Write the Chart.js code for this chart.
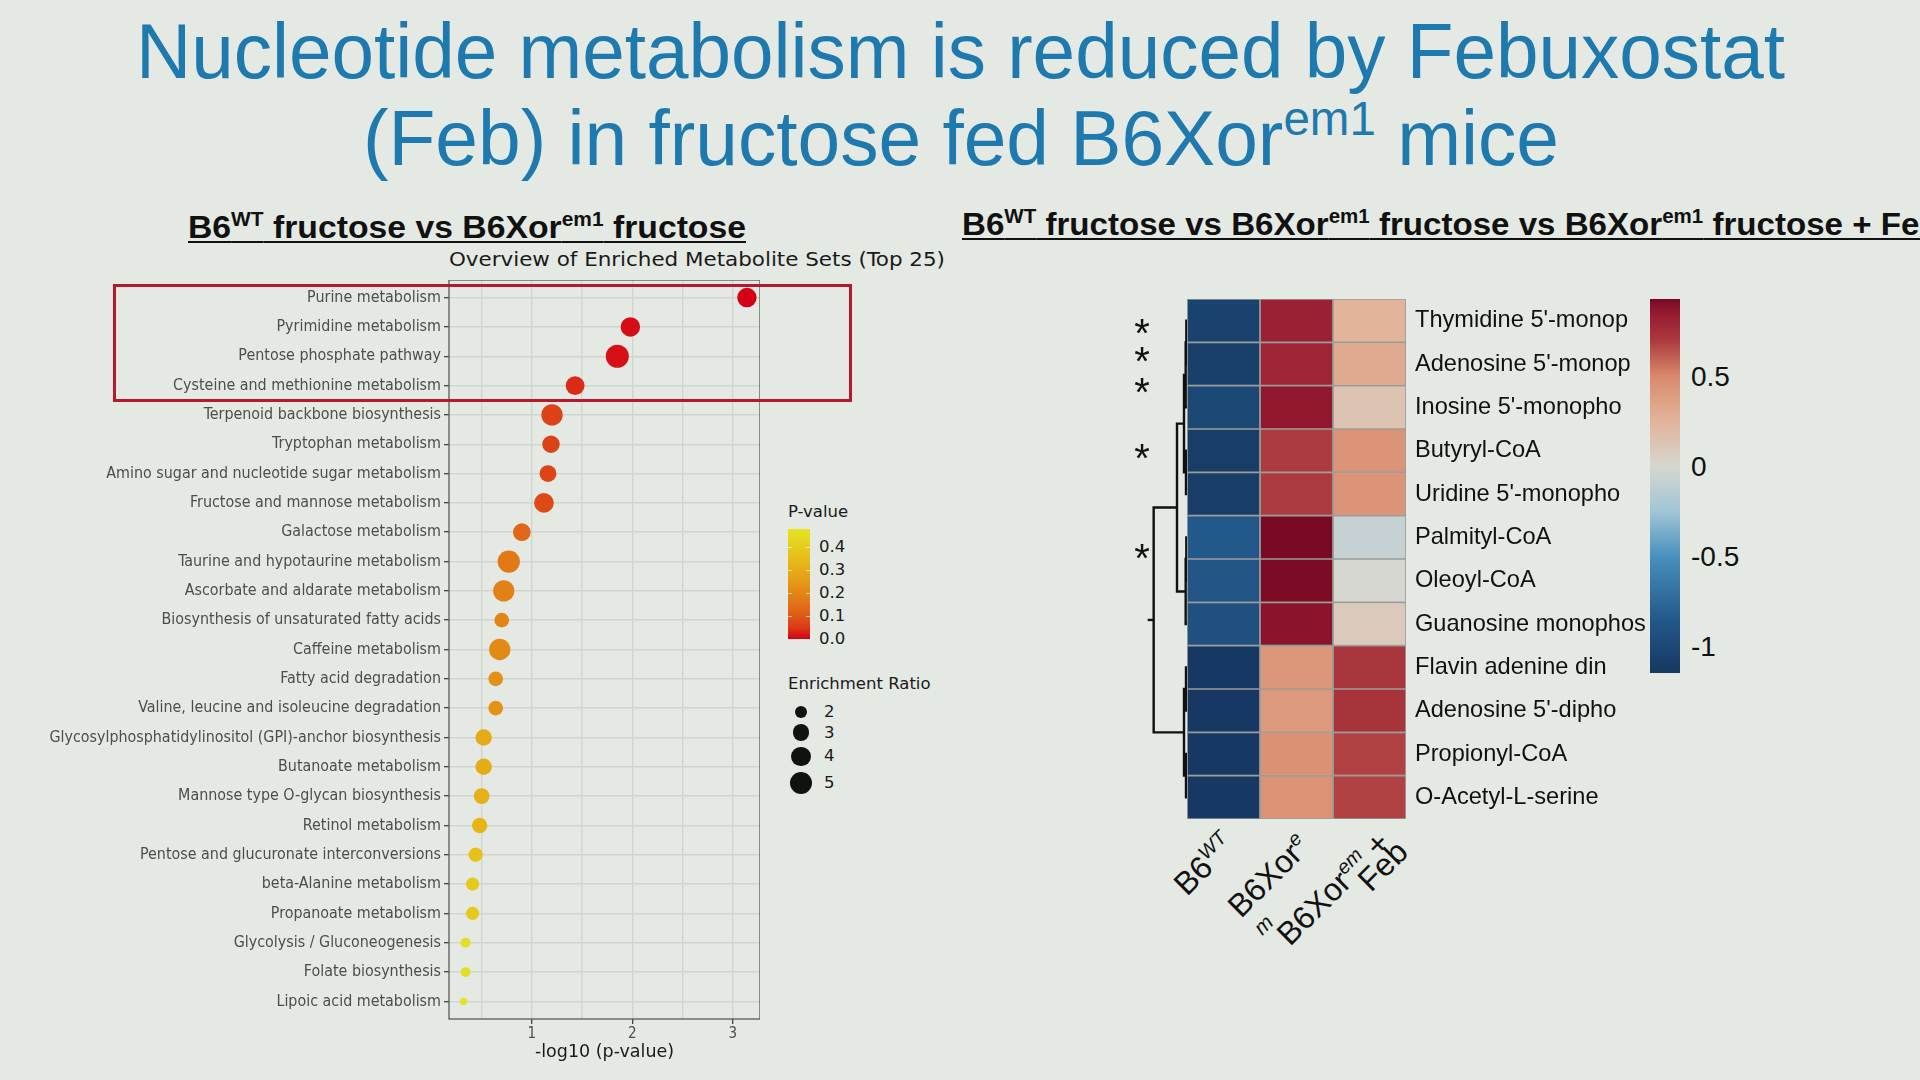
<!DOCTYPE html>
<html>
<head>
<meta charset="utf-8">
<title>Nucleotide metabolism is reduced by Febuxostat</title>
<script src="https://cdn.jsdelivr.net/npm/chart.js@4.4.1/dist/chart.umd.min.js"></script>
<style>
  html, body { margin: 0; padding: 0; }
  body {
    width: 1920px; height: 1080px; overflow: hidden; position: relative;
    background: #e4e9e3; font-family: 'Liberation Sans', Arial, sans-serif; color: #111;
  }
  .txt { position: absolute; white-space: nowrap; line-height: 1; }
  .sp { font-size: 0.62em; vertical-align: 0.62em; line-height: 0; }
  .box { position: absolute; }
  .chart { position: absolute; }
  .title { color: #1e7aae; font-family: 'Liberation Sans Narrow', 'Liberation Sans', Arial, sans-serif; }
  .sub { font-weight: bold; text-decoration: underline; text-decoration-thickness: 2px; text-underline-offset: 3px;
         font-family: 'Liberation Sans Narrow', 'Liberation Sans', Arial, sans-serif; }
</style>
</head>
<body>

<div class="chart" style="left:0px; top:280px; width:760px; height:800px;"><canvas id="dotplot"></canvas></div>
<div class="chart" style="left:1147px; top:299px; width:40px; height:520px;"><canvas id="dendro"></canvas></div>
<div class="chart" style="left:1187px; top:299px; width:463px; height:520px;"><canvas id="heatmap"></canvas></div>

<script>
// ---- left panel: enriched metabolite sets ----
const pathways = [
  "Purine metabolism",
  "Pyrimidine metabolism",
  "Pentose phosphate pathway",
  "Cysteine and methionine metabolism",
  "Terpenoid backbone biosynthesis",
  "Tryptophan metabolism",
  "Amino sugar and nucleotide sugar metabolism",
  "Fructose and mannose metabolism",
  "Galactose metabolism",
  "Taurine and hypotaurine metabolism",
  "Ascorbate and aldarate metabolism",
  "Biosynthesis of unsaturated fatty acids",
  "Caffeine metabolism",
  "Fatty acid degradation",
  "Valine, leucine and isoleucine degradation",
  "Glycosylphosphatidylinositol (GPI)-anchor biosynthesis",
  "Butanoate metabolism",
  "Mannose type O-glycan biosynthesis",
  "Retinol metabolism",
  "Pentose and glucuronate interconversions",
  "beta-Alanine metabolism",
  "Propanoate metabolism",
  "Glycolysis / Gluconeogenesis",
  "Folate biosynthesis",
  "Lipoic acid metabolism"
];
const negLogP = [3.14, 1.98, 1.85, 1.43, 1.20, 1.19, 1.16, 1.12, 0.90, 0.77, 0.72, 0.70, 0.68,
                 0.64, 0.64, 0.52, 0.52, 0.50, 0.48, 0.44, 0.41, 0.41, 0.34, 0.34, 0.32];
const enrichRatio = [4.0, 4.0, 5.4, 3.8, 4.7, 3.3, 3.1, 4.1, 3.4, 5.1, 4.7, 2.5, 4.7,
                     2.5, 2.5, 3.0, 3.0, 2.8, 2.7, 2.4, 2.1, 2.1, 1.4, 1.4, 1.0];
const xTicks = [0.5, 1, 1.5, 2, 2.5, 3];
const pTicks = [0.0, 0.1, 0.2, 0.3, 0.4];
const ratioTicks = [2, 3, 4, 5];

// ---- right panel: heatmap ----
const metabolites = ["Thymidine 5'-monop", "Adenosine 5'-monop", "Inosine 5'-monopho", "Butyryl-CoA",
  "Uridine 5'-monopho", "Palmityl-CoA", "Oleoyl-CoA", "Guanosine monophos",
  "Flavin adenine din", "Adenosine 5'-dipho", "Propionyl-CoA", "O-Acetyl-L-serine"];
const zB6WT    = [-1.05, -1.07, -1.00, -1.10, -1.10, -0.85, -0.88, -0.92, -1.14, -1.14, -1.14, -1.14];
const zXor     = [0.82, 0.80, 0.86, 0.70, 0.70, 0.93, 0.92, 0.88, 0.42, 0.41, 0.46, 0.45];
const zXorFeb  = [0.25, 0.31, 0.14, 0.44, 0.44, -0.08, 0.00, 0.10, 0.72, 0.73, 0.68, 0.68];
const zTicks = [0.5, 0, -0.5, -1];
const zMin = -1.144, zMax = 0.93;
// row dendrogram, hclust style (negative = leaf number, positive = earlier merge)
const mergeA = [-1, 1, -4, 2, -6, 5, 4, -9, -11, 8, 7];
const mergeB = [-2, -3, -5, 3, -7, -8, 6, -10, -12, 9, 10];
const mergeH = [0.02, 0.04, 0.03, 0.09, 0.02, 0.04, 0.30, 0.03, 0.03, 0.09, 1.0];

// colour scales
const pStops = [[0, 212, 0, 22], [0.1, 220, 55, 22], [0.25, 224, 100, 22], [0.5, 228, 150, 22],
                [0.75, 230, 192, 26], [1, 228, 228, 36]];
const heatStops = [[-1.144, 22, 56, 97], [-0.85, 35, 88, 138], [-0.5, 72, 144, 190], [-0.25, 160, 197, 214],
                   [0, 214, 215, 208], [0.25, 226, 180, 155], [0.5, 217, 138, 108], [0.7, 172, 58, 62],
                   [0.85, 150, 26, 48], [0.93, 120, 10, 36]];

function ramp(stops, v) {
  if (v <= stops[0][0]) return `rgb(${stops[0].slice(1).join(',')})`;
  for (let i = 1; i < stops.length; i++) {
    const a = stops[i - 1], b = stops[i];
    if (v <= b[0]) {
      const t = (v - a[0]) / (b[0] - a[0]);
      const c = [1, 2, 3].map(k => Math.round(a[k] + (b[k] - a[k]) * t));
      return `rgb(${c.join(',')})`;
    }
  }
  return `rgb(${stops[stops.length - 1].slice(1).join(',')})`;
}
const pMax = Math.pow(10, -Math.min(...negLogP));
const pColor = p => ramp(pStops, p / pMax);
const heatColor = v => ramp(heatStops, v);
const sizeOf = er => Math.sqrt(27 * (er - 0.5));

// text helpers
function addText(html, x, base, fs, opts = {}) {
  const d = document.createElement('div');
  d.className = 'txt' + (opts.cls ? ' ' + opts.cls : '');
  d.innerHTML = html;
  d.style.left = x + 'px';
  d.style.top = (base - 0.846 * fs) + 'px';
  d.style.fontSize = fs + 'px';
  if (opts.family) d.style.fontFamily = opts.family;
  if (opts.color) d.style.color = opts.color;
  if (opts.italic) d.style.fontStyle = 'italic';
  document.body.appendChild(d);
  if (opts.width) {
    const part = opts.part ? d.querySelector(opts.part) : d;
    const w = part.getBoundingClientRect().width;
    d.style.transformOrigin = '0 0';
    d.style.transform = `scaleX(${opts.width / w})`;
  }
  if (opts.rotate) {
    d.style.transformOrigin = `0 ${0.846 * fs}px`;
    d.style.transform = `rotate(${opts.rotate}deg)`;
  }
  return d;
}
function addBox(x, y, w, h, css) {
  const d = document.createElement('div');
  d.className = 'box';
  Object.assign(d.style, {left: x + 'px', top: y + 'px', width: w + 'px', height: h + 'px'}, css);
  document.body.appendChild(d);
  return d;
}
function fitFont(text, family, base, target) {
  const c = document.createElement('canvas').getContext('2d');
  c.font = `${base}px ${family}`;
  return base * target / c.measureText(text).width;
}

// titles
addText('Nucleotide metabolism is reduced by Febuxostat', 136, 78, 77, {cls: 'title', width: 1649});
addText('(Feb) in fructose fed B6Xor<span class="sp">em1</span> mice', 363, 165, 77, {cls: 'title', width: 1196});
addText('B6<span class="sp">WT</span> fructose vs B6Xor<span class="sp">em1</span> fructose', 188, 238, 32, {cls: 'sub', width: 558});
addText('<span class="pre">B6<span class="sp">WT</span> fructose vs B6Xor<span class="sp">em1</span> fructose vs B6Xor<span class="sp">em1</span> fructose</span> + Feb',
        962, 235, 32, {cls: 'sub', width: 881, part: '.pre'});

const condensed = "'DejaVu Sans Condensed', 'DejaVu Sans', sans-serif";
addText('Overview of Enriched Metabolite Sets (Top 25)', 449, 266, 20, {family: condensed, width: 496, color: '#1a1a1a'});

// ---- dot plot ----
const ySize = fitFont(pathways[15], condensed, 15, 392);
const gridColor = '#d1d5d0';
const panelBorder = {
  id: 'panelBorder',
  afterDatasetsDraw(chart) {
    const {ctx, chartArea: a} = chart;
    ctx.save();
    ctx.strokeStyle = '#5a5a5a';
    ctx.lineWidth = 1.3;
    ctx.strokeRect(a.left, a.top, a.right - a.left, a.bottom - a.top);
    ctx.restore();
  }
};

new Chart(document.getElementById('dotplot'), {
  type: 'bubble',
  data: {
    datasets: [{
      data: pathways.map((name, i) => ({x: negLogP[i], y: i, r: sizeOf(enrichRatio[i])})),
      backgroundColor: negLogP.map(v => pColor(Math.pow(10, -v))),
      borderWidth: 0,
      hoverRadius: 0
    }]
  },
  options: {
    responsive: true, maintainAspectRatio: false, animation: false,
    layout: {padding: 0, autoPadding: false},
    plugins: {legend: {display: false}, tooltip: {enabled: false}},
    scales: {
      x: {
        type: 'linear', min: 0.175, max: 3.27,
        afterBuildTicks: s => { s.ticks = xTicks.map(v => ({value: v})); },
        afterFit: s => { s.height = 61; s.paddingLeft = 0; s.paddingRight = 0; },
        grid: {color: gridColor, lineWidth: 1.4, tickLength: 5, tickWidth: 1.2,
               tickColor: c => Number.isInteger(c.tick && c.tick.value) ? '#333' : 'rgba(0,0,0,0)'},
        border: {display: false},
        ticks: {autoSkip: false, maxRotation: 0, padding: 1, color: '#4d4d4d',
                font: {family: condensed, size: 15},
                callback: v => Number.isInteger(v) ? String(v) : ''},
        title: {display: true, text: '-log10 (p-value)', color: '#1a1a1a',
                font: {family: "'DejaVu Sans', sans-serif", size: 17.5}, padding: {top: 0, bottom: 17}}
      },
      y: {
        type: 'linear', min: -0.6, max: pathways.length - 0.4, reverse: true,
        afterBuildTicks: s => { s.ticks = pathways.map((n, i) => ({value: i})); },
        afterFit: s => { s.width = 449; s.paddingTop = 0; s.paddingBottom = 0; },
        grid: {color: gridColor, lineWidth: 1.4, tickLength: 5, tickWidth: 1.2, tickColor: '#333'},
        border: {display: false},
        ticks: {autoSkip: false, padding: 3, color: '#4d4d4d', font: {family: condensed, size: ySize},
                callback: v => pathways[v]}
      }
    }
  },
  plugins: [panelBorder]
});

// highlight box
addBox(113, 284, 739, 118, {border: '3px solid #b5192b', boxSizing: 'border-box'});

// P-value legend
const legFam = "'DejaVu Sans', sans-serif";
addText('P-value', 788, 518, 16.5, {family: legFam, color: '#1a1a1a'});
const barTop = 529, barH = 110;
const pGrad = pStops.slice().reverse().map(s => `${ramp(pStops, s[0])} ${((1 - s[0]) * 100).toFixed(1)}%`).join(',');
addBox(788, barTop, 22, barH, {background: `linear-gradient(to bottom, ${pGrad})`});
pTicks.forEach(p => {
  const y = barTop + barH - (p / pMax) * barH;
  addText(p.toFixed(1), 819, y + 0.36 * 16.5, 16.5, {family: legFam, color: '#1a1a1a'});
  if (p > 0) {
    addBox(788, y - 0.5, 4, 1, {background: 'rgba(255,255,255,0.6)'});
    addBox(806, y - 0.5, 4, 1, {background: 'rgba(255,255,255,0.6)'});
  }
});

// Enrichment ratio legend
addText('Enrichment Ratio', 788, 690, 16.5, {family: legFam, color: '#1a1a1a'});
let ly = 712, prevR = null;
ratioTicks.forEach(er => {
  const r = sizeOf(er);
  if (prevR !== null) ly += prevR + r + 6;
  addBox(801 - r, ly - r, 2 * r, 2 * r, {background: '#111', borderRadius: '50%'});
  addText(String(er), 824, ly + 0.36 * 16.5, 16.5, {family: legFam, color: '#1a1a1a'});
  prevR = r;
});

// ---- heatmap ----
const rowSize = fitFont(metabolites[7], "'Liberation Sans', Arial, sans-serif", 23, 231);
new Chart(document.getElementById('heatmap'), {
  type: 'bar',
  data: {
    labels: metabolites,
    datasets: [zB6WT, zXor, zXorFeb].map((vals, c) => ({
      data: vals.map(() => [c, c + 1]),
      backgroundColor: vals.map(heatColor),
      borderColor: '#9b9d98',
      borderWidth: 1.2,
      borderSkipped: false,
      barPercentage: 1,
      categoryPercentage: 1,
      grouped: false
    }))
  },
  options: {
    indexAxis: 'y',
    responsive: true, maintainAspectRatio: false, animation: false,
    layout: {padding: 0, autoPadding: false},
    plugins: {legend: {display: false}, tooltip: {enabled: false}},
    scales: {
      x: {type: 'linear', min: 0, max: 3, display: false},
      y: {
        position: 'right', offset: true,
        grid: {display: false, drawTicks: false},
        border: {display: false},
        ticks: {padding: 9, color: '#111', font: {family: "'Liberation Sans', Arial, sans-serif", size: rowSize}},
        afterFit: s => { s.width = 244; s.paddingTop = 0; s.paddingBottom = 0; }
      }
    }
  }
});

// dendrogram
const nodes = [];
const nodeOf = c => c < 0 ? {h: 0, y: -c - 0.5} : nodes[c - 1];
const dendroSets = [];
mergeA.forEach((a, k) => {
  const A = nodeOf(a), B = nodeOf(mergeB[k]), h = mergeH[k];
  nodes.push({h: h, y: (A.y + B.y) / 2});
  dendroSets.push([{x: A.h, y: A.y}, {x: h, y: A.y}, {x: h, y: B.y}, {x: B.h, y: B.y}]);
});
const root = nodes[nodes.length - 1];
dendroSets.push([{x: root.h, y: root.y}, {x: root.h * 1.18, y: root.y}]);

new Chart(document.getElementById('dendro'), {
  type: 'scatter',
  data: {
    datasets: dendroSets.map(pts => ({
      data: pts, showLine: true, pointRadius: 0, borderColor: '#111', borderWidth: 2.4,
      tension: 0, clip: false
    }))
  },
  options: {
    responsive: true, maintainAspectRatio: false, animation: false,
    layout: {padding: 0, autoPadding: false},
    plugins: {legend: {display: false}, tooltip: {enabled: false}},
    scales: {
      x: {type: 'linear', min: 0, max: 1.2, reverse: true, display: false},
      y: {type: 'linear', min: 0, max: metabolites.length, reverse: true, display: false}
    }
  }
});

// heatmap colour bar
const cbTop = 299, cbH = 374;
const hGrad = heatStops.slice().reverse()
  .map(s => `${ramp(heatStops, s[0])} ${((zMax - s[0]) / (zMax - zMin) * 100).toFixed(1)}%`).join(',');
addBox(1650, cbTop, 30, cbH, {background: `linear-gradient(to bottom, ${hGrad})`});
zTicks.forEach(v => {
  const y = cbTop + (zMax - v) / (zMax - zMin) * cbH;
  addText(String(v), 1691, y + 0.36 * 28, 28, {color: '#111'});
});

// significance marks
[323, 351, 382, 448, 548].forEach(cy => addText('*', 1142 - 0.195 * 40, cy + 0.585 * 40, 40, {color: '#111'}));

// rotated column labels
addText('B6<span class="sp" style="font-style:italic">WT</span>', 1187, 897, 32, {rotate: -45});
addText('B6Xor<span class="sp" style="font-style:italic">e</span>', 1241, 919, 32, {rotate: -45});
addText('m', 1262, 936, 21, {rotate: -45, italic: true});
addText('B6Xor<span class="sp" style="font-style:italic">em</span> +', 1290, 947, 32, {rotate: -45});
addText('Feb', 1371, 893, 32, {rotate: -45});
</script>
</body>
</html>
